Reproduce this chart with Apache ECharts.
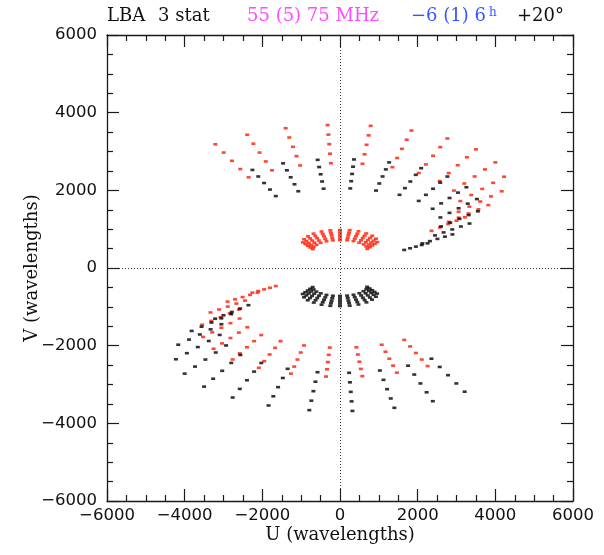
<!DOCTYPE html>
<html>
<head>
<meta charset="utf-8">
<script src="https://cdn.jsdelivr.net/npm/echarts@6/dist/echarts.min.js"></script>
<style>
html,body{margin:0;padding:0;background:#fff;}
#chart{width:604px;height:555px;}
</style>
</head>
<body>
<div id="chart"></div>
<script>
// Observing frequencies (MHz): 55 (5) 75
const freqsMHz = [55, 60, 65, 70, 75];
const refFreqMHz = 75;
// Hour angles (h): -6 (1) 6
const hourAngles = [-6, -5, -4, -3, -2, -1, 0, 1, 2, 3, 4, 5, 6];

// Baseline tracks read at 75 MHz (wavelengths), one point per hour angle
const trackA_u = [-3210, -2390, -1400, -320, 790, 1840, 2765, 3500, 4000, 4225, 4165, 3820, 3215];
const trackA_v = [3185, 3430, 3600, 3680, 3660, 3540, 3335, 3055, 2720, 2350, 1975, 1620, 1305];
const trackB_u = [-2255, -1465, -575, 360, 1265, 2090, 2765, 3255, 3525, 3550, 3335, 2895, 2255];
const trackB_v = [2525, 2695, 2785, 2795, 2720, 2570, 2355, 2080, 1775, 1460, 1145, 865, 635];
const trackC_u = [-955, -925, -825, -680, -475, -250, 0, 250, 475, 675, 830, 925, 960];
const trackC_v = [660, 740, 815, 885, 940, 970, 980, 975, 945, 890, 830, 755, 670];

// Axis tick labels
const tickValues = [-6000, -4000, -2000, 0, 2000, 4000, 6000];

function trackPoints(us, vs, sign) {
  const pts = [];
  for (let h = 0; h < hourAngles.length; h++) {
    for (const f of freqsMHz) {
      const k = f / refFreqMHz;
      pts.push([sign * us[h] * k, sign * vs[h] * k]);
    }
  }
  return pts;
}

const redPts = [].concat(
  trackPoints(trackA_u, trackA_v, 1),
  trackPoints(trackC_u, trackC_v, 1),
  trackPoints(trackB_u, trackB_v, -1)
);
const blackPts = [].concat(
  trackPoints(trackA_u, trackA_v, -1),
  trackPoints(trackC_u, trackC_v, -1),
  trackPoints(trackB_u, trackB_v, 1)
);

const fmt = v => (v < 0 ? '\u2212' + Math.abs(v) : String(v));
const lineCol = '#1a1a1a';

function mkAxis(pos, showLabel, isX) {
  return {
    type: 'value',
    position: pos,
    min: tickValues[0],
    max: tickValues[tickValues.length - 1],
    interval: 2000,
    axisLine: { show: true, onZero: false, lineStyle: { color: lineCol, width: 1.3 } },
    axisTick: { show: true, inside: true, length: 12, lineStyle: { color: lineCol, width: 1.2 } },
    minorTick: { show: true, splitNumber: 4, length: 6, lineStyle: { color: lineCol, width: 1.2 } },
    splitLine: { show: false },
    minorSplitLine: { show: false },
    axisLabel: {
      show: showLabel,
      formatter: fmt,
      fontFamily: 'DejaVu Sans',
      fontSize: 16.5,
      color: '#111',
      margin: isX ? 6 : 10
    }
  };
}

const chart = echarts.init(document.getElementById('chart'), null, { renderer: 'canvas' });
chart.setOption({
  animation: false,
  backgroundColor: '#fff',
  grid: { left: 107, right: 31, top: 35, bottom: 54, containLabel: false, outerBoundsMode: 'none' },
  xAxis: [mkAxis('bottom', true, true), mkAxis('top', false, true)],
  yAxis: [mkAxis('left', true, false), mkAxis('right', false, false)],
  series: [
    {
      type: 'scatter',
      xAxisIndex: 0, yAxisIndex: 0,
      data: redPts,
      symbol: 'rect',
      symbolSize: [4, 2.6],
      itemStyle: { color: '#ff1a00' },
      silent: true,
      markLine: {
        silent: true,
        symbol: ['none', 'none'],
        label: { show: false },
        lineStyle: { color: '#333', width: 1, type: [1, 2] },
        data: [{ xAxis: 0 }, { yAxis: 0 }]
      }
    },
    {
      type: 'scatter',
      xAxisIndex: 0, yAxisIndex: 0,
      data: blackPts,
      symbol: 'rect',
      symbolSize: [4, 2.6],
      itemStyle: { color: '#000' },
      silent: true
    }
  ],
  graphic: [
    { type: 'text', x: 107, y: 16, style: { text: 'LBA', font: '18px "DejaVu Serif"', fill: '#111', textAlign: 'left', textVerticalAlign: 'middle' } },
    { type: 'text', x: 158, y: 16, style: { text: '3 stat', font: '18px "DejaVu Serif"', fill: '#111', textAlign: 'left', textVerticalAlign: 'middle' } },
    { type: 'text', x: 247, y: 16, style: { text: '55 (5) 75 MHz', font: '18px "DejaVu Serif"', fill: '#ff4cff', textAlign: 'left', textVerticalAlign: 'middle' } },
    { type: 'text', x: 411, y: 16, style: { text: '\u22126 (1) 6', font: '18px "DejaVu Serif"', fill: '#3355ff', textAlign: 'left', textVerticalAlign: 'middle' } },
    { type: 'text', x: 489, y: 13, style: { text: 'h', font: '12px "DejaVu Serif"', fill: '#3355ff', textAlign: 'left', textVerticalAlign: 'middle' } },
    { type: 'text', x: 517, y: 16, style: { text: '+20\u00b0', font: '18px "DejaVu Serif"', fill: '#111', textAlign: 'left', textVerticalAlign: 'middle' } },
    { type: 'text', x: 340, y: 535, style: { text: 'U (wavelengths)', font: '18px "DejaVu Serif"', fill: '#111', textAlign: 'center', textVerticalAlign: 'middle' } },
    { type: 'text', x: 32, y: 268, rotation: Math.PI / 2, style: { text: 'V (wavelengths)', font: '18px "DejaVu Serif"', fill: '#111', textAlign: 'center', textVerticalAlign: 'middle' } }
  ]
});
</script>
</body>
</html>
